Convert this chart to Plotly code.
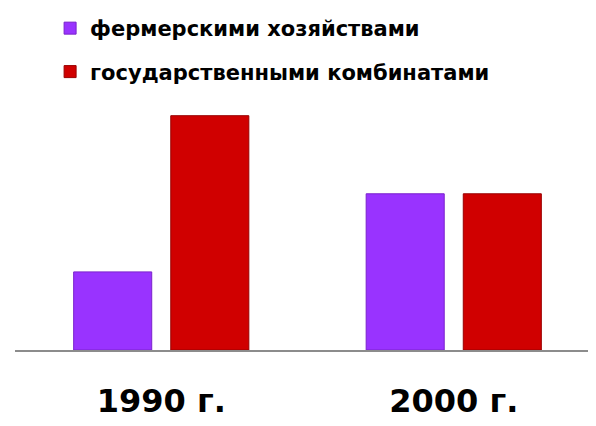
import plotly.graph_objects as go

categories = ["1990 г.", "2000 г."]
series_names = ["фермерскими хозяйствами", "государственными комбинатами"]
farms = [1, 2]
state = [3, 2]
colors = ["#9933FF", "#D00000"]
outlines = ["#7A22CC", "#990000"]

fig = go.Figure()
fig.add_trace(go.Bar(x=categories, y=farms, name=series_names[0],
                     marker=dict(color=colors[0], line=dict(color=outlines[0], width=1)),
                     legend="legend"))
fig.add_trace(go.Bar(x=categories, y=state, name=series_names[1],
                     marker=dict(color=colors[1], line=dict(color=outlines[1], width=1)),
                     legend="legend2"))

legend_font = dict(family="DejaVu Sans", size=21, color="black", weight="bold")
fig.update_layout(
    width=596, height=426,
    margin=dict(l=7, r=4, t=0, b=84),
    paper_bgcolor="white", plot_bgcolor="white",
    barmode="group", bargap=0.336, bargroupgap=0.196,
    showlegend=True,
    legend=dict(x=0.06, xanchor="left", y=0.944, yanchor="middle",
                font=legend_font, bgcolor="rgba(0,0,0,0)"),
    legend2=dict(x=0.06, xanchor="left", y=0.813, yanchor="middle",
                 font=legend_font, bgcolor="rgba(0,0,0,0)"),
    xaxis=dict(range=[-0.5, 1.5], showline=True, linecolor="#8C8C8C", linewidth=2,
               showgrid=False, zeroline=False, ticks="",
               ticklabelstandoff=22,
               tickfont=dict(family="DejaVu Sans", size=32, color="black", weight="bold")),
    yaxis=dict(range=[0, 4.366], visible=False, showgrid=False, zeroline=False),
)

fig.write_html("out.html")
